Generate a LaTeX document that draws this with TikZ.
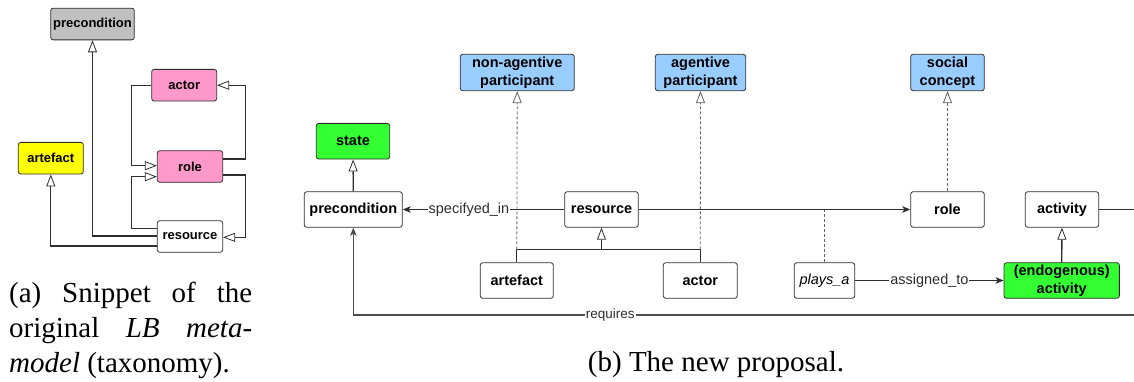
\documentclass[tikz,border=0pt]{standalone}
\usepackage{fontspec}
\setmainfont{Liberation Serif}
\newfontfamily\diagfont{Liberation Sans}
\usetikzlibrary{arrows.meta,calc}

\definecolor{linegray}{HTML}{2E2E2E}
\definecolor{boxgray}{HTML}{C0C0C0}
\definecolor{boxpink}{HTML}{FF99CC}
\definecolor{boxyellow}{HTML}{FFFF00}
\definecolor{boxblue}{HTML}{99CCFF}
\definecolor{boxgreen}{HTML}{33FF33}

\tikzset{
  umlbox/.style={draw=linegray, line width=0.8pt, rounded corners=2.5pt,
    fill=white, inner sep=0pt, align=center, text=black,
    font=\diagfont\bfseries\fontsize{14.5}{17.5}\selectfont},
  smallbox/.style={umlbox, font=\diagfont\bfseries\fontsize{13}{15}\selectfont},
  gen/.style={draw=linegray, line width=1.3pt,
    -{Triangle[length=12pt,width=9pt,fill=white,line width=0.8pt]}},
  real/.style={draw=linegray!75, line width=0.8pt, dash pattern=on 3pt off 2pt,
    -{Triangle[length=12pt,width=9pt,fill=white,line width=0.8pt]}},
  assoc/.style={draw=linegray, line width=1.3pt,
    -{Stealth[length=8pt,width=6.5pt,inset=2pt]}},
  plain/.style={draw=linegray, line width=1.3pt},
  lbl/.style={fill=white, inner sep=1pt, text=linegray,
    font=\diagfont\fontsize{14.5}{16}\selectfont},
  smalllbl/.style={fill=white, inner sep=1pt, text=linegray,
    font=\diagfont\fontsize{13.5}{15}\selectfont},
  caption/.style={inner sep=0pt, anchor=base west,
    font=\fontsize{29}{35}\selectfont}
}

\begin{document}
\begin{tikzpicture}[x=1pt,y=-1pt]
\useasboundingbox (0,0) rectangle (1134,381);

% ---------- (a) taxonomy of the original meta-model ----------
\node[smallbox, fill=boxgray, minimum width=83.6pt, minimum height=31.7pt] (pre0) at (92.5,24) {precondition};
\node[smallbox, fill=boxpink, minimum width=65pt, minimum height=31.7pt] (actor0) at (184.2,85.2) {actor};
\node[smallbox, fill=boxpink, minimum width=65.4pt, minimum height=31.6pt] (role0) at (190,166.5) {role};
\node[smallbox, fill=boxyellow, minimum width=65pt, minimum height=31.7pt] (art0) at (50.8,158.2) {artefact};
\node[smallbox, minimum width=65.4pt, minimum height=31.6pt] (res0) at (190,236.5) {resource};

\draw[gen] (res0.west |- 0,236) -| (pre0.south);
\draw[gen] (res0.west |- 0,246) -| (art0.south);
\draw[gen] (res0.west |- 0,228.3) -- (131.7,228.3) |- (role0.west |- 0,176.7);
\draw[gen] (actor0.west) -- (131.7,85.2) |- (role0.west |- 0,165.7);
\draw[gen] (role0.east |- 0,159) -- (245.7,159) |- (actor0.east);
\draw[gen] (role0.east |- 0,175) -- (245.7,175) |- (res0.east |- 0,237.3);

\node[caption] (capa1) at (9,302.5) {\makebox[243pt][s]{(a) Snippet of the}};
\node[caption] (capa2) at (9,337.5) {\makebox[243pt][s]{original \textit{LB} \textit{meta-}}};
\node[caption] (capa3) at (9,372.5) {\textit{model} (taxonomy).};

% ---------- (b) the new proposal ----------
\node[umlbox, fill=boxblue, minimum width=114pt, minimum height=36.4pt] (nap) at (517.2,72.5) {non-agentive\\participant};
\node[umlbox, fill=boxblue, minimum width=90.4pt, minimum height=36.4pt] (ap) at (700.5,72.5) {agentive\\participant};
\node[umlbox, fill=boxblue, minimum width=73.6pt, minimum height=36.4pt] (sc) at (947.5,72.5) {social\\concept};
\node[umlbox, fill=boxgreen, minimum width=73.4pt, minimum height=35.7pt] (state) at (353,141.2) {state};
\node[umlbox, minimum width=98pt, minimum height=35.6pt] (pre) at (353.3,209.5) {precondition};
\node[umlbox, minimum width=73.6pt, minimum height=35.6pt] (res) at (601.5,209.5) {resource};
\node[umlbox, minimum width=73.6pt, minimum height=35.6pt] (role) at (947.5,209.5) {role};
\node[umlbox, minimum width=73.4pt, minimum height=35.6pt] (act) at (1062,209.5) {activity};
\node[umlbox, minimum width=73pt, minimum height=35.6pt] (art) at (516.8,280.5) {artefact};
\node[umlbox, minimum width=74pt, minimum height=35.6pt] (actor) at (700.3,280.5) {actor};
\node[umlbox, minimum width=60.4pt, minimum height=35.6pt, font=\diagfont\itshape\fontsize{14.5}{17.5}\selectfont] (plays) at (824.5,280.5) {plays\_a};
\node[umlbox, fill=boxgreen, minimum width=115.3pt, minimum height=35.6pt] (endo) at (1061.7,280.5) {(endogenous)\\activity};

% junction of the artefact/actor generalisation
\coordinate (tb) at (601,249.3);
% free ends running off the right edge
\coordinate (actout) at (1134,209.5);
\coordinate (rqout) at (1134,315);
\coordinate (rqcorner) at (353.3,315);

\draw[gen] (pre) -- (state);
\draw[assoc] (res.west) -- node[lbl, pos=0.59] {specifyed\_in} (pre.east);
\draw[assoc] (res.east) -- (role.west);
\draw[draw=linegray!75, line width=0.8pt, dash pattern=on 3pt off 2pt] (plays.north) -- (plays.north |- res.east);

\draw[plain] (art.north) |- (actor.north |- tb) -- (actor.north);
\draw[gen] (res.south |- tb) -- (res.south);
\draw[real] (art.north |- tb) -- (nap.south);
\draw[real] (actor.north |- tb) -- (ap.south);
\draw[real] (role) -- (sc);

\draw[gen] (endo) -- (act);
\draw[assoc] (plays) -- node[lbl] {assigned\_to} (endo);
\draw[plain] (act.east) -- (actout);

\draw[assoc, draw=linegray!85, line width=1.5pt] (rqout) -- node[smalllbl, pos=0.671] {requires} (rqcorner) -- (pre.south);

\node[caption, anchor=base] (capb) at (716,371) {(b) The new proposal.};
\end{tikzpicture}
\end{document}
